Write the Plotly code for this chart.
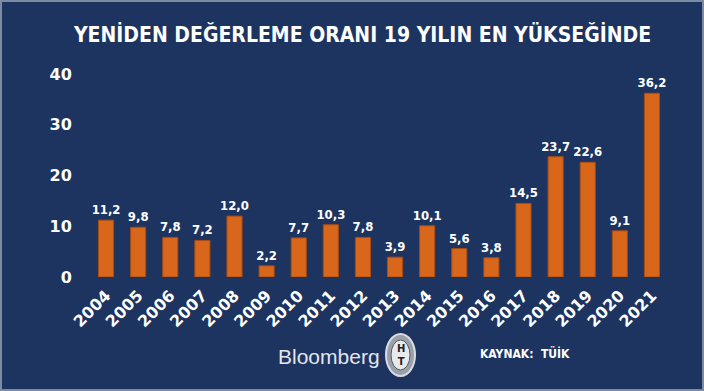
import plotly.graph_objects as go

years = [str(y) for y in range(2004, 2022)]
values = [11.2, 9.8, 7.8, 7.2, 12.0, 2.2, 7.7, 10.3, 7.8, 3.9, 10.1, 5.6, 3.8, 14.5, 23.7, 22.6, 9.1, 36.2]
y_ticks = [0, 10, 20, 30, 40]

BG = "#1c345f"
FONT = "DejaVu Sans, Verdana, sans-serif"
CFONT = "DejaVu Sans Condensed, Verdana, sans-serif"

fig = go.Figure()
fig.add_trace(go.Bar(
    x=years, y=values,
    width=0.47,
    marker=dict(color="#d8661b", line=dict(color="#a94c10", width=1)),
    texttemplate="%{y:.1f}",
    textposition="outside",
    constraintext="none",
    cliponaxis=False,
    textfont=dict(color="white", size=13, family=CFONT, weight="bold"),
))

fig.update_layout(
    width=704, height=391,
    paper_bgcolor=BG, plot_bgcolor=BG,
    separators=",.",
    margin=dict(l=90, r=36, t=74, b=114),
    showlegend=False,
    title=dict(text="<b>YENİDEN DEĞERLEME ORANI 19 YILIN EN YÜKSEĞİNDE</b>",
               x=0.515, xanchor="center", y=0.912, yanchor="middle",
               font=dict(color="white", size=21, family=CFONT)),
)
fig.update_xaxes(
    type="category", tickangle=-45, showgrid=False, zeroline=False, showline=False,
    ticks="outside", ticklen=2, tickcolor=BG,
    tickfont=dict(color="white", size=16, family=FONT, weight="bold"),
)
fig.update_yaxes(
    range=[0, 40], tickvals=y_ticks, showgrid=False, zeroline=False, showline=False,
    ticks="outside", ticklen=14, tickcolor=BG,
    tickfont=dict(color="white", size=16, family=FONT, weight="bold"),
)

fig.add_annotation(text="Bloomberg", xref="paper", yref="paper", x=(329-90)/578, y=-(356-277)/203,
                   showarrow=False, font=dict(color="#e4e6ec", size=21, family="Liberation Sans, Arial, sans-serif"),
                   xanchor="center", yanchor="middle")
# HT logo
fig.add_shape(type="circle", xref="paper", yref="paper",
              x0=(386-90)/578, x1=(415-90)/578, y0=-(376-277)/203, y1=-(334-277)/203,
              fillcolor="#9aa0aa", line=dict(color="#d9dce2", width=2))
fig.add_shape(type="circle", xref="paper", yref="paper",
              x0=(391-90)/578, x1=(410-90)/578, y0=-(370-277)/203, y1=-(340-277)/203,
              fillcolor="#e8e9ec", line=dict(color="#555b66", width=1))
fig.add_annotation(text="<b>H<br>T</b>", xref="paper", yref="paper", x=(400.5-90)/578, y=-(355-277)/203,
                   showarrow=False, font=dict(color="#222", size=10, family=FONT),
                   xanchor="center", yanchor="middle")
fig.add_annotation(text="<b>KAYNAK:  TÜİK</b>", xref="paper", yref="paper", x=(478-90)/578, y=-(353-277)/203,
                   showarrow=False, font=dict(color="white", size=12, family=CFONT),
                   xanchor="left", yanchor="middle")
# border
fig.add_shape(type="rect", xref="paper", yref="paper",
              x0=-89/578, x1=1+35/578, y0=-113/203, y1=1+73/203,
              line=dict(color="#7d8aa3", width=2), fillcolor="rgba(0,0,0,0)")

fig.write_html("out.html", config={"displayModeBar": False},
               post_script="document.body.style.margin='0';document.body.style.padding='0';")
